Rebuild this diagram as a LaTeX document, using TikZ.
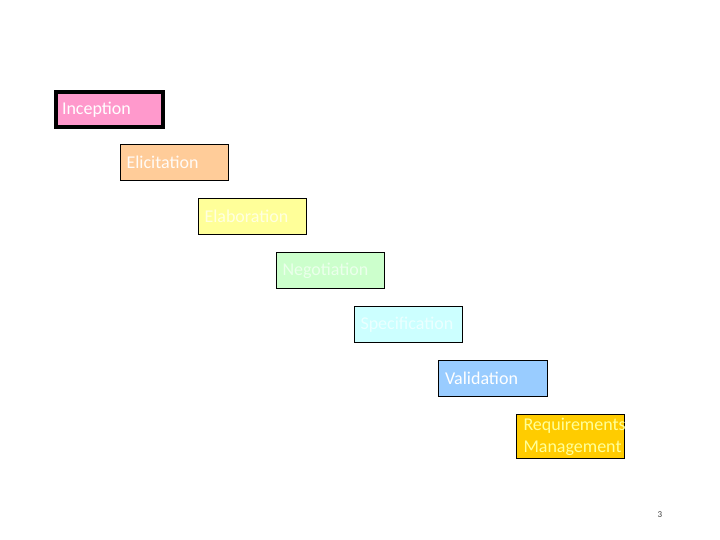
\documentclass[tikz,border=0pt]{standalone}
\usepackage{fontspec}
\setmainfont{Carlito}
\definecolor{pinkfill}{HTML}{FF99CC}
\definecolor{peachfill}{HTML}{FFCC99}
\definecolor{lemonfill}{HTML}{FFFF99}
\definecolor{mintfill}{HTML}{CCFFCC}
\definecolor{icefill}{HTML}{CCFFFF}
\definecolor{skyfill}{HTML}{99CCFF}
\definecolor{goldfill}{HTML}{FFCC00}
\tikzset{phase/.style={draw, line width=1pt, anchor=north west,
        minimum width=108pt, minimum height=36pt, inner xsep=6pt,
        text width=96pt, align=left, font=\fontsize{18}{22}\selectfont}}
\begin{document}
\begin{tikzpicture}[x=1pt, y=-1pt]
            \useasboundingbox (0,0) rectangle (720,540);
            \node[phase, line width=4pt, minimum width=107pt, minimum height=35pt, text width=95pt, fill=pinkfill, text=white] (inception) at (54,90) {Inception};
            \node[phase, fill=peachfill, text=white!92!peachfill] (elicitation) at (120,144) {Elicitation};
            \node[phase, fill=lemonfill, text=white!70!lemonfill] (elaboration) at (198,198) {Elaboration};
            \node[phase, fill=mintfill, text=white!60!mintfill] (negotiation) at (276,252) {Negotiation};
            \node[phase, fill=icefill, text=white!60!icefill] (specification) at (354,306) {Specification};
            \node[phase, minimum width=109pt, fill=skyfill, text=white] (validation) at (438,360) {Validation};
            \node[phase, minimum height=42pt, inner xsep=7pt, text width=94pt, fill=goldfill, text=lemonfill] (management) at (516,414) {Requirements\\Management};
            \node[font=\fontsize{9}{10}\selectfont, text=darkgray] (pagenum) at (660,515) {3};
        \end{tikzpicture}
\end{document}
